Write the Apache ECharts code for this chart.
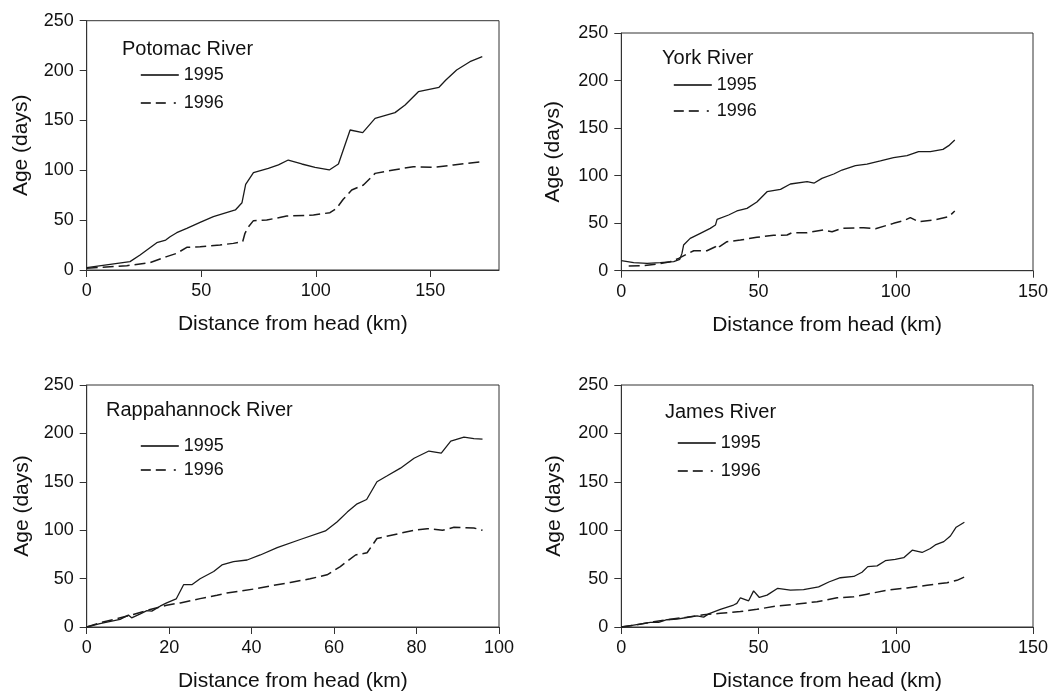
<!DOCTYPE html>
<html>
<head>
<meta charset="utf-8">
<script src="https://cdn.jsdelivr.net/npm/echarts@6/dist/echarts.min.js"></script>
<style>
html,body{margin:0;padding:0;background:#fff;}
#c{width:1054px;height:693px;}
</style>
</head>
<body>
<div id="c"></div>
<script>
// ---------- DATA ----------
const riverNames = ['Potomac River', 'York River', 'Rappahannock River', 'James River'];
const seriesNames = ['1995', '1996'];
const xMax = [180, 150, 100, 150];
const xInterval = [50, 50, 20, 50];
const xTickLabels = [[0, 50, 100, 150], [0, 50, 100, 150], [0, 20, 40, 60, 80, 100], [0, 50, 100, 150]];
const yTickLabels = [0, 50, 100, 150, 200, 250];

// Potomac
const potomac1995Km  = [0, 18.9, 23.3, 30.6, 34.5, 36.4, 39.3, 43.7, 49.5, 55.3, 64.9, 67.8, 69.4, 72.8, 79.3, 83.7, 88, 93.9, 99.7, 105.9, 109.9, 115, 120.5, 125.9, 134.6, 139, 144.8, 153.8, 156.8, 161.5, 167.3, 172.7];
const potomac1995Age = [2.3, 8.4, 15, 27.4, 30, 33.4, 37.4, 41.8, 47.8, 53.5, 60.2, 67.5, 85.9, 97.6, 102, 105.5, 110.3, 106.3, 103, 100.3, 106.3, 140.4, 137.7, 152, 157.8, 165.4, 178.8, 183.2, 190.5, 200.5, 208.9, 213.9];
const potomac1996Km  = [0, 17.5, 27.6, 34.9, 39.3, 43.7, 49.5, 58.2, 64, 68.1, 69.1, 70.5, 72.8, 78.6, 87.3, 99, 106.2, 109.1, 112, 115.7, 120.8, 125.9, 133.9, 142.6, 151.3, 160.1, 172.7];
const potomac1996Age = [1.7, 4.3, 7.4, 13.4, 16.7, 22.7, 23.4, 25.1, 26.7, 28.4, 36.8, 43, 49.5, 50.1, 54.1, 55.1, 57.5, 61.8, 70.9, 80.2, 85.2, 96.9, 100.3, 103.6, 102.9, 105.3, 108.6];

// York
const york1995Km  = [0, 4.5, 9.4, 14.2, 19.1, 21.3, 22.1, 22.7, 25.1, 28.8, 32.4, 34.3, 34.9, 39.1, 42.1, 45.8, 49.4, 53.1, 58, 61.6, 67.7, 70.3, 73.1, 77.4, 80.4, 85.3, 89.5, 94.4, 99.2, 104.1, 108.3, 112.6, 117.2, 119.3, 121.5];
const york1995Age = [10.5, 8.4, 7.7, 8.4, 9.5, 11.9, 18.2, 27, 34, 39.3, 44.5, 48, 54, 58.6, 62.8, 65.6, 72.2, 83.1, 85.6, 91.2, 93.6, 92.2, 97.1, 101.7, 105.9, 110.4, 112.2, 115.4, 118.9, 121, 125.2, 125.2, 127.6, 131.5, 137.4];
const york1996Km  = [2.7, 8.1, 13, 17.9, 20.9, 23.9, 26.4, 31.2, 34.3, 34.9, 35.8, 38.5, 43.4, 49.4, 55.5, 60.4, 62.2, 67.7, 73.7, 76.8, 80.4, 88.3, 92.6, 99.2, 102.9, 105.3, 108.3, 113.8, 119.3, 121.5];
const york1996Age = [4.9, 5.3, 7, 9.5, 13, 17.5, 21, 21, 25.2, 27.7, 25.2, 30.5, 32.3, 35.1, 37.2, 37.5, 40, 40, 42.8, 41, 44.5, 45.2, 44.2, 49.8, 52.6, 55.8, 51.5, 53.3, 56.8, 62.8];

// Rappahannock
const rapp1995Km  = [0, 3.2, 8.1, 10.1, 10.9, 13, 14.6, 15.8, 17.8, 19.4, 21.7, 23.5, 25.5, 27.5, 30.8, 32.8, 35.6, 38.9, 42.1, 46.2, 51.8, 57.9, 60.7, 63.2, 65.6, 67.9, 70.4, 72.9, 76.1, 79.4, 83, 86, 88.3, 91.5, 93.9, 96];
const rapp1995Age = [0, 3.4, 7.8, 12.3, 9.5, 13.6, 17, 16.4, 21.5, 24.9, 29, 43.7, 43.7, 49.8, 57.3, 64.1, 67.5, 69.2, 74.4, 81.9, 90.4, 99.2, 108.5, 118.7, 127.2, 131.7, 150.1, 156.2, 164.1, 174.3, 181.8, 179.7, 192, 196.1, 194.7, 194.1];
const rapp1996Km  = [0, 3.2, 7.3, 11.3, 15.4, 19.4, 22.7, 27.5, 31.6, 34, 40.5, 45.3, 49.4, 54.2, 58.3, 61.5, 65.2, 68, 70.4, 76.1, 79.4, 82.6, 86.3, 89.1, 93.9, 96];
const rapp1996Age = [0, 4.4, 8.5, 13, 18.1, 22.5, 24.9, 29.3, 32.7, 35.1, 39.2, 43, 46, 49.8, 53.9, 62.4, 74.4, 76.7, 91.4, 96.9, 99.9, 101.6, 99.9, 103, 102.3, 99.9];

// James
const james1995Km  = [0, 4.5, 10.6, 13.6, 16.6, 20.3, 23.9, 27.6, 30, 31.8, 36.1, 40.9, 42.1, 43.4, 46.4, 48.2, 50.3, 53.1, 57, 61.6, 66.4, 71.9, 75.6, 79.8, 84.7, 87.7, 89.8, 93.2, 96.2, 99.8, 102.9, 106, 109.6, 112.6, 114.4, 117.5, 119.9, 122, 125];
const james1995Age = [0, 2, 4.7, 4.7, 7.5, 8.1, 9.8, 11.5, 10.2, 13.6, 18.3, 22.7, 24.4, 30.2, 27.1, 37.3, 30.5, 32.9, 40, 38, 38.7, 41.4, 46.5, 50.9, 52.2, 56.6, 62.4, 63.1, 68.5, 69.9, 71.6, 79.4, 77, 81.1, 84.8, 88.2, 94, 103.1, 108.2];
const james1996Km  = [0, 5.7, 11.8, 17.9, 23.9, 30, 36.1, 43.4, 49.4, 56.7, 64, 71.3, 78.6, 84.7, 89.5, 96.8, 104.1, 111.4, 118.7, 122.3, 125];
const james1996Age = [0, 2.4, 5.4, 8.1, 10.2, 12.6, 14.2, 15.9, 18.3, 21.7, 23.7, 26.1, 30.2, 31.2, 33.9, 38, 40.4, 43.1, 45.8, 48.2, 51.6];

// ---------- LAYOUT ----------
const FONT = "'Liberation Sans', Arial, sans-serif";
const INK = '#1a1a1a';
const DASH = [11, 5];
const LEGEND_DASH = [10, 5, 10, 8, 2, 10];
const grids = [
  {left: 86.7, top: 20.7, width: 412.3, height: 249.3},
  {left: 621.3, top: 33, width: 411.7, height: 237.7},
  {left: 86.7, top: 385, width: 412.3, height: 244.3},
  {left: 621.3, top: 385, width: 411.7, height: 245.7}
];
const yNameGap = [55, 58, 54, 57];
const titlePos = [{left: 122, top: 39}, {left: 662, top: 48}, {left: 106, top: 400}, {left: 665, top: 402}];
const legendPos = [{left: 140, top: 66, gap: 10}, {left: 673, top: 76, gap: 8}, {left: 140, top: 437, gap: 6}, {left: 677, top: 434, gap: 10}];

const allData = [
  [[potomac1995Km, potomac1995Age], [potomac1996Km, potomac1996Age]],
  [[york1995Km, york1995Age], [york1996Km, york1996Age]],
  [[rapp1995Km, rapp1995Age], [rapp1996Km, rapp1996Age]],
  [[james1995Km, james1995Age], [james1996Km, james1996Age]]
];

function zip(a, b) { return a.map((v, i) => [v, b[i]]); }

const option = {
  animation: false,
  backgroundColor: '#fff',
  textStyle: {fontFamily: FONT},
  grid: grids.map(g => Object.assign({show: true, borderColor: '#333', borderWidth: 1, backgroundColor: 'transparent'}, g)),
  title: riverNames.map((n, i) => ({
    text: n, left: titlePos[i].left, top: titlePos[i].top, padding: 0,
    textStyle: {fontFamily: FONT, fontSize: 20, fontWeight: 'normal', color: '#111'}
  })),
  legend: legendPos.map(p => ({
    data: [
      {name: seriesNames[0], lineStyle: {type: 'solid', width: 1.6, color: '#000'}},
      {name: seriesNames[1], lineStyle: {type: LEGEND_DASH, width: 1.6, color: '#000'}}
    ],
    orient: 'vertical', left: p.left, top: p.top, padding: 0,
    itemWidth: 38, itemHeight: 14, itemGap: p.gap,
    itemStyle: {opacity: 0},
    textStyle: {fontFamily: FONT, fontSize: 18, color: '#111', padding: [0, 0, 0, 0]},
    selectedMode: false
  })),
  xAxis: grids.map((g, i) => ({
    type: 'value', gridIndex: i, min: 0, max: xMax[i], interval: xInterval[i],
    name: 'Distance from head (km)', nameLocation: 'middle', nameGap: 44,
    nameTextStyle: {fontFamily: FONT, fontSize: 21, color: '#111'},
    axisLine: {show: true, lineStyle: {color: '#333', width: 1}},
    axisTick: {show: true, length: 7, inside: false, lineStyle: {color: '#333'}, customValues: xTickLabels[i]},
    axisLabel: {fontFamily: FONT, fontSize: 18, color: '#111', margin: 12, customValues: xTickLabels[i]},
    splitLine: {show: false}
  })),
  yAxis: grids.map((g, i) => ({
    type: 'value', gridIndex: i, min: 0, max: 250, interval: 50,
    name: 'Age (days)', nameLocation: 'middle', nameGap: yNameGap[i], nameRotate: 90,
    nameTextStyle: {fontFamily: FONT, fontSize: 21, color: '#111'},
    axisLine: {show: true, lineStyle: {color: '#333', width: 1}},
    axisTick: {show: true, length: 7, inside: false, lineStyle: {color: '#333'}, customValues: yTickLabels},
    axisLabel: {fontFamily: FONT, fontSize: 18, color: '#111', margin: 13, customValues: yTickLabels},
    splitLine: {show: false}
  })),
  series: []
};

allData.forEach((pair, i) => {
  pair.forEach((d, j) => {
    option.series.push({
      type: 'line', name: seriesNames[j], xAxisIndex: i, yAxisIndex: i,
      data: zip(d[0], d[1]), symbol: 'none', showSymbol: false,
      lineStyle: {color: INK, width: j === 0 ? 1.3 : 1.5, type: j === 0 ? 'solid' : DASH},
      itemStyle: {color: INK},
      emphasis: {disabled: true}
    });
  });
});

const chart = echarts.init(document.getElementById('c'), null, {renderer: 'canvas'});
chart.setOption(option);
</script>
</body>
</html>
